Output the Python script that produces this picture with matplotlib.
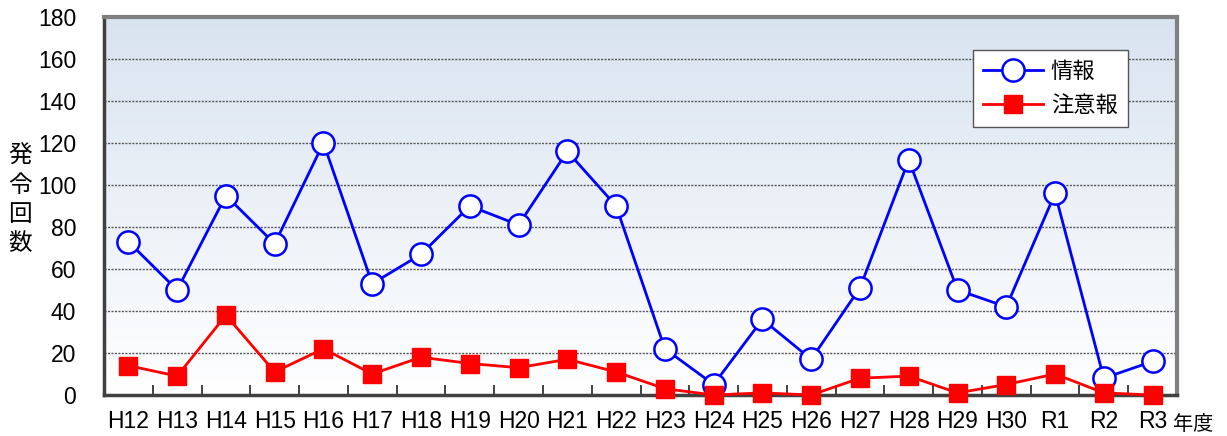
import matplotlib
matplotlib.use("Agg")
import matplotlib.pyplot as plt
import numpy as np
from matplotlib.colors import LinearSegmentedColormap

categories = ["H12", "H13", "H14", "H15", "H16", "H17", "H18", "H19", "H20", "H21", "H22",
              "H23", "H24", "H25", "H26", "H27", "H28", "H29", "H30", "R1", "R2", "R3"]
info = [73, 50, 95, 72, 120, 53, 67, 90, 81, 116, 90, 22, 5, 36, 17, 51, 112, 50, 42, 96, 8, 16]
warning = [14, 9, 38, 11, 22, 10, 18, 15, 13, 17, 11, 3, 0, 1, 0, 8, 9, 1, 5, 10, 1, 0]
yticks = [0, 20, 40, 60, 80, 100, 120, 140, 160, 180]

JP = ["Noto Sans CJK JP", "DejaVu Sans"]
NUM = ["Liberation Sans", "DejaVu Sans"]

W, H = 1227, 436
fig = plt.figure(figsize=(W / 100, H / 100), dpi=100)
ax = fig.add_axes([104 / W, 1 - 395 / H, (1177 - 104) / W, (395 - 17) / H])

x = np.arange(len(categories))
ax.set_xlim(-0.5, len(categories) - 0.5)
ax.set_ylim(0, 180)

# gradient background
cmap = LinearSegmentedColormap.from_list("bg", ["#ffffff", "#d9e3f0"])
grad = np.linspace(0, 1, 256).reshape(-1, 1)
ax.imshow(grad, aspect="auto", cmap=cmap, origin="lower",
          extent=[-0.5, len(categories) - 0.5, 0, 180], zorder=0)

for yv in yticks[1:-1]:
    ax.axhline(yv, color="#555555", lw=1.0, ls=(0, (1.5, 1)), zorder=1)

ax.plot(x, info, color="#0000ff", lw=2, marker="o", markersize=16,
        markerfacecolor="white", markeredgecolor="#0000ff", markeredgewidth=1.8,
        label="情報", zorder=3, clip_on=False)
ax.plot(x, warning, color="#ff0000", lw=2, marker="s", markersize=13,
        markerfacecolor="#ff0000", markeredgecolor="#ff0000",
        label="注意報", zorder=4, clip_on=False)

ax.set_yticks(yticks)
ax.set_yticklabels([str(v) for v in yticks], fontfamily=NUM, fontsize=16.5)
ax.set_xticks(x)
ax.set_xticklabels(categories, fontfamily=NUM, fontsize=16.5)
ax.tick_params(axis="x", length=0, pad=11)
ax.tick_params(axis="y", length=0, pad=20)
# minor ticks between categories, inward
ax.set_xticks(np.arange(0.5, len(categories) - 1, 1), minor=True)
ax.tick_params(axis="x", which="minor", direction="in", length=7, width=1.2, color="#222222")

for s in ["top", "right"]:
    ax.spines[s].set_color("#808080")
    ax.spines[s].set_linewidth(3)
for s in ["left", "bottom"]:
    ax.spines[s].set_color("#404040")
    ax.spines[s].set_linewidth(2.5)

leg = ax.legend(loc="upper left", bbox_to_anchor=((973 - 104) / (1177 - 104), (395 - 50) / (395 - 17)),
                prop={"family": JP, "size": 16}, frameon=True, fancybox=False,
                edgecolor="#555555", framealpha=1, borderpad=0.45, labelspacing=0.5,
                handlelength=2.7, handletextpad=0.35, borderaxespad=0)
leg.get_frame().set_linewidth(1)

fig.text(20 / W, 1 - 200 / H, "発\n令\n回\n数", fontfamily=JP, fontsize=17,
         ha="center", va="center", linespacing=1.35)
fig.text(1193 / W, 1 - 424 / H, "年度", fontfamily=JP, fontsize=14.5, ha="center", va="center")

fig.savefig("out.png", dpi=100)
